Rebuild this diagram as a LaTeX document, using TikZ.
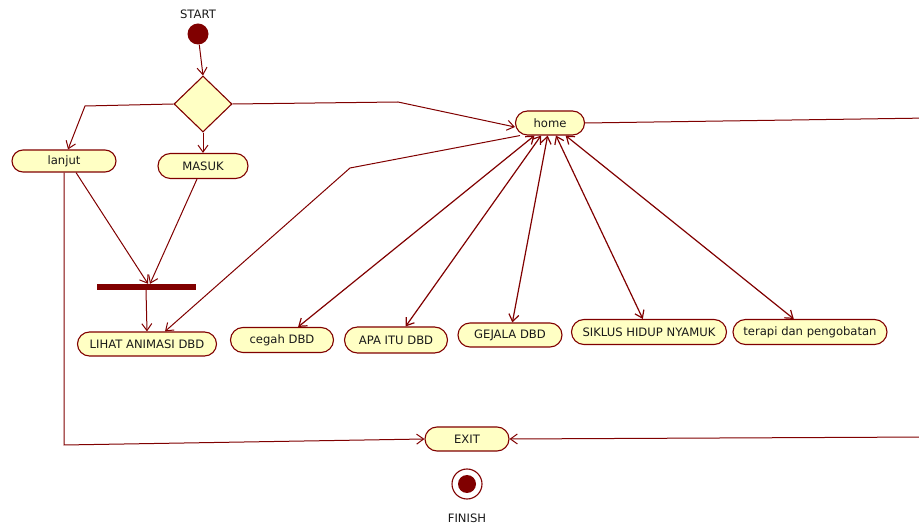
\documentclass[tikz,border=0pt]{standalone}
\usepackage{fontspec}
\setmainfont{DejaVu Sans}
\usepackage{tikz}
\usetikzlibrary{shapes.geometric, shapes.misc, arrows.meta, calc}

\definecolor{umlred}{HTML}{800000}
\definecolor{umlfill}{HTML}{FFFFC4}

\begin{document}
\begin{tikzpicture}[x=1pt, y=-1pt,
  every node/.style={font=\fontsize{11.6}{13}\selectfont, text=black!90},
  act/.style={rounded rectangle, draw=umlred, fill=umlfill, line width=1.1pt, minimum height=24pt, inner sep=2pt},
  flow/.style={draw=umlred, line width=1pt, -{Straight Barb[length=7pt,width=10pt]}},
  both/.style={draw=umlred, line width=1.2pt, {Straight Barb[length=7pt,width=10pt]}-{Straight Barb[length=7pt,width=10pt]}}]
\useasboundingbox (0,0) rectangle (919,526);
\clip (0,0) rectangle (919,526);

% start and decision
\node (startlbl) at (198,14) {START};
\node[circle, fill=umlred, minimum size=21pt, inner sep=0] (start) at (198,34) {};
\node[diamond, draw=umlred, fill=umlfill, line width=1.1pt, minimum width=58pt, minimum height=56pt, inner sep=0] (dec) at (203,104) {};

% activities
\node[act, minimum width=108pt, minimum height=22pt] (lanjut) at (64,161) {lanjut};
\node[act, minimum width=94pt, minimum height=25pt] (masuk) at (203,166) {MASUK};
\node[rectangle, fill=umlred, minimum width=99pt, minimum height=6pt, inner sep=0] (bar) at (146,287) {};
\node[act, minimum width=143pt] (lihat) at (147,344) {LIHAT ANIMASI DBD};
\node[act, minimum width=73pt] (home) at (550,123) {home};
\node[act, minimum width=107pt, minimum height=25pt] (cegah) at (282,340) {cegah DBD};
\node[act, minimum width=107pt, minimum height=26pt] (apa) at (396,340) {APA ITU DBD};
\node[act, minimum width=108pt] (gejala) at (510,335) {GEJALA DBD};
\node[act, minimum width=159pt, minimum height=25pt] (siklus) at (649,332) {SIKLUS HIDUP NYAMUK};
\node[act, minimum width=158pt, minimum height=25pt] (terapi) at (810,332) {terapi dan pengobatan};
\node[act, minimum width=88pt] (exit) at (467,439) {EXIT};

% end
\node[circle, draw=umlred, fill=white, line width=1.1pt, minimum size=30pt, inner sep=0] (finish) at (467,484) {};
\node[circle, fill=umlred, minimum size=18pt, inner sep=0] at (finish) {};
\node (finishlbl) at (467,518) {FINISH};

\coordinate (r1) at (930,118);
\coordinate (r2) at (930,437);

% flows
\draw[flow] (start) -- (dec.north);
\draw[flow] (dec.west) -- (85,106) -- ([xshift=4pt]lanjut.north);
\draw[flow] (dec.south) -- (masuk.north);
\draw[flow] (dec.east) -- (398,102) -- ([yshift=-4pt]home.west);
\draw[flow] ([xshift=12pt]lanjut.south) -- ([xshift=2pt]bar.north);
\draw[flow] ([xshift=-6pt]masuk.south) -- ([xshift=4pt]bar.north);
\draw[flow] (bar.south) -- (lihat.north);
\draw[flow] ([xshift=-30pt]home.south) -- (350,168) -- ([xshift=18pt]lihat.north);
\draw[flow] (lanjut.south) -- (64,445) -- (exit.west);
\draw[flow] (home.east) -- (r1) -- (r2) -- (exit.east);

\draw[both] (cegah) -- (home);
\draw[both] (apa) -- (home);
\draw[both] (gejala) -- (home);
\draw[both] (siklus) -- (home);
\draw[both] (terapi) -- (home);
\end{tikzpicture}
\end{document}
